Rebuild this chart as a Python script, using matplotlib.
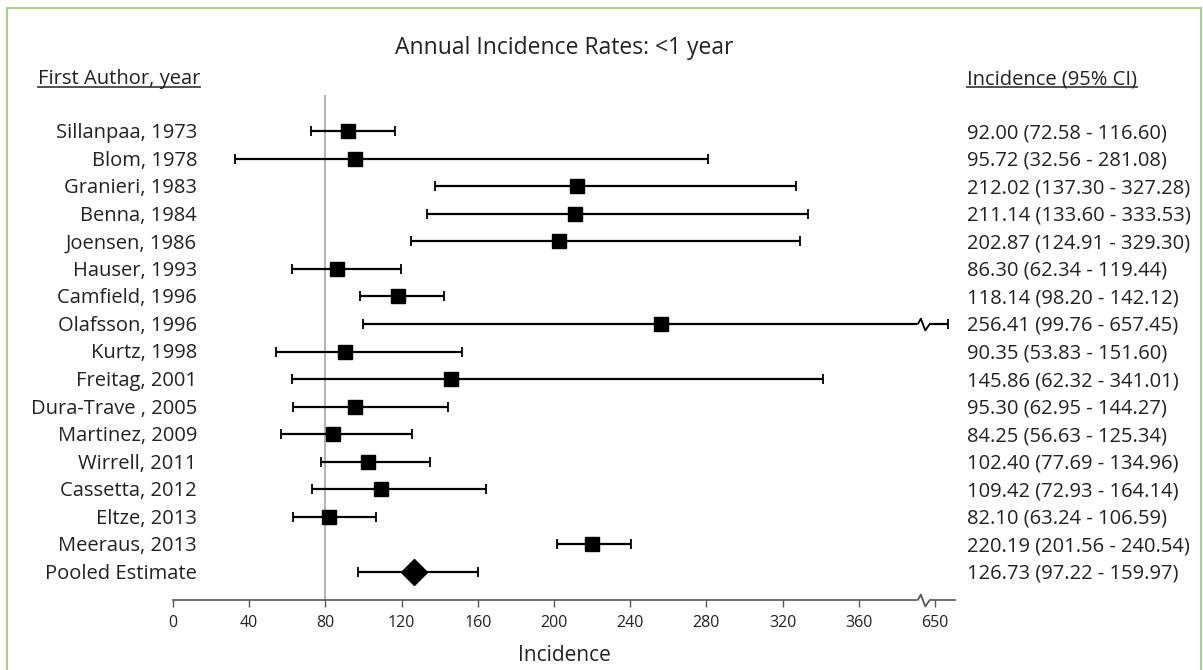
import numpy as np
import matplotlib
matplotlib.use('Agg')
import matplotlib.pyplot as plt
from matplotlib.path import Path
from matplotlib.lines import Line2D
from matplotlib.patches import Rectangle

plt.rcParams['font.family'] = ['Open Sans', 'DejaVu Sans']

authors = ['Sillanpaa, 1973', 'Blom, 1978', 'Granieri, 1983', 'Benna, 1984',
           'Joensen, 1986', 'Hauser, 1993', 'Camfield, 1996', 'Olafsson, 1996',
           'Kurtz, 1998', 'Freitag, 2001', 'Dura-Trave , 2005', 'Martinez, 2009',
           'Wirrell, 2011', 'Cassetta, 2012', 'Eltze, 2013', 'Meeraus, 2013',
           'Pooled Estimate']
est = [92.00, 95.72, 212.02, 211.14, 202.87, 86.30, 118.14, 256.41, 90.35,
       145.86, 95.30, 84.25, 102.40, 109.42, 82.10, 220.19, 126.73]
lo = [72.58, 32.56, 137.30, 133.60, 124.91, 62.34, 98.20, 99.76, 53.83,
      62.32, 62.95, 56.63, 77.69, 72.93, 63.24, 201.56, 97.22]
hi = [116.60, 281.08, 327.28, 333.53, 329.30, 119.44, 142.12, 657.45, 151.60,
      341.01, 144.27, 125.34, 134.96, 164.14, 106.59, 240.54, 159.97]
ticks = [0, 40, 80, 120, 160, 200, 240, 280, 320, 360, 650]
ref_line = 80

# broken axis: squeeze 395..650 into a small gap
def fwd(v):
    v = np.asarray(v, dtype=float)
    return np.where(v <= 395, v,
                    np.where(v <= 650, 395 + (v - 395) * 5 / 255.,
                             400 + (v - 650) * 0.9))

def inv(u):
    u = np.asarray(u, dtype=float)
    return np.where(u <= 395, u,
                    np.where(u <= 400, 395 + (u - 395) * 255 / 5.,
                             650 + (u - 400) / 0.9))

W, H = 1203, 670
TXT = '#222222'
fig = plt.figure(figsize=(W / 100, H / 100), dpi=100)
fig.patches.append(Rectangle((7 / W, -0.1), (1201 - 7) / W, 1 - 8 / H + 0.1,
                             transform=fig.transFigure, fill=False,
                             edgecolor='#a9d18e', lw=1.5))

ax = fig.add_axes([173 / W, 1 - 600 / H, (955 - 173) / W, (600 - 95) / H])
ax.set_xscale('function', functions=(fwd, inv))
ax.set_xlim(0, 661.7)
n = len(authors)
y = np.arange(n)
ax.set_ylim(n - 1 + 28 / 27.56, -(131 - 95) / 27.56)

ax.axvline(ref_line, color='#a6a6a6', lw=1.2, zorder=1)

e = np.array(est)
l = np.array(lo)
h = np.array(hi)
ax.errorbar(e[:-1], y[:-1], xerr=[e[:-1] - l[:-1], h[:-1] - e[:-1]],
            fmt='s', color='black', ms=9.5, elinewidth=1.6, capsize=3.5,
            capthick=1.3, zorder=3)
ax.errorbar(e[-1:], y[-1:], xerr=[e[-1:] - l[-1:], h[-1:] - e[-1:]],
            fmt='D', color='black', ms=13, elinewidth=1.6, capsize=3.5,
            capthick=1.3, zorder=3)

# zigzag break marks
zz = Path([(-1, 0), (-0.45, 1), (0.3, -1), (1, 0)])
brk = 393.7
olaf = authors.index('Olafsson, 1996')
yb = ax.get_ylim()[0]
for yy, c in [(olaf, 'black'), (yb, '#555555')]:
    ax.plot([brk], [yy], marker='_', ms=8, mew=4, color='white', zorder=4,
            clip_on=False)
    ax.plot([brk], [yy], marker=zz, ms=8.5, mew=1.3, color=c,
            mfc='none', zorder=5, clip_on=False)

for s in ['top', 'right', 'left']:
    ax.spines[s].set_visible(False)
ax.spines['bottom'].set_color('#555555')
ax.spines['bottom'].set_linewidth(1.2)
ax.set_yticks([])
ax.set_xticks(ticks)
ax.set_xticklabels([str(t) for t in ticks], fontsize=11.5, color=TXT)
ax.tick_params(axis='x', direction='out', length=5, width=1, color='#555555',
               pad=6)
ax.set_xlabel('Incidence', fontsize=15, color=TXT, labelpad=10)

for i, a in enumerate(authors):
    fig.text(197 / W, 1 - (133 + 27.56 * i) / H, a, ha='right', va='center',
             fontsize=14.5, color=TXT)
    fig.text(967 / W, 1 - (133 + 27.56 * i) / H,
             f'{est[i]:.2f} ({lo[i]:.2f} - {hi[i]:.2f})', ha='left',
             va='center', fontsize=14.5, color=TXT)

fig.text(564 / W, 1 - 48 / H, 'Annual Incidence Rates: <1 year', ha='center',
         va='center', fontsize=16.5, color=TXT)
h1 = fig.text(38 / W, 1 - 79 / H, 'First Author, year', ha='left',
              va='center', fontsize=14.5, color=TXT)
h2 = fig.text(967 / W, 1 - 79 / H, 'Incidence (95% CI)', ha='left',
              va='center', fontsize=14.5, color=TXT)

fig.canvas.draw()
r = fig.canvas.get_renderer()
for t in (h1, h2):
    bb = t.get_window_extent(r)
    x0, x1 = bb.x0 / W, bb.x1 / W
    yy = (bb.y0 + 2) / H
    fig.add_artist(Line2D([x0, x1], [yy, yy], transform=fig.transFigure,
                          color='#444444', lw=1.3))

fig.savefig('out.png', dpi=100)
